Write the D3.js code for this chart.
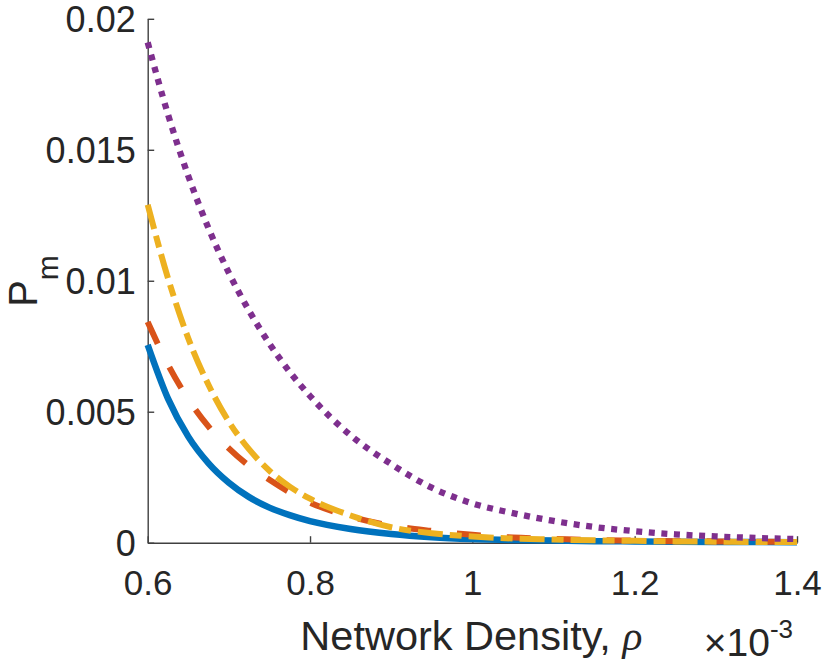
<!DOCTYPE html>
<html>
<head>
<meta charset="utf-8">
<script src="https://cdn.jsdelivr.net/npm/d3@7/dist/d3.min.js"></script>
<style>
  html, body { margin: 0; padding: 0; background: #fff; }
  svg { display: block; }
  text { font-family: "Liberation Sans", Arial, Helvetica, sans-serif; fill: #262626; }
</style>
</head>
<body>
<svg id="chart" width="830" height="667"></svg>
<script>
// Network density (x 10^-3)
const density = [0.6, 0.625, 0.65, 0.675, 0.7, 0.725, 0.75, 0.775, 0.8, 0.85, 0.9, 0.95, 1.0, 1.05, 1.1, 1.15, 1.2, 1.25, 1.3, 1.35, 1.4];
// P_m series
const seriesBlue   = [0.00755, 0.0055, 0.00405, 0.00303, 0.00229, 0.00174, 0.00134, 0.00105, 0.00082, 0.00052, 0.00033, 0.00021, 0.00014, 0.0001, 0.00008, 0.00006, 0.00005, 0.00004, 0.00003, 0.00003, 0.00002];
const seriesRed    = [0.00843, 0.0068, 0.00548, 0.00443, 0.0036, 0.00293, 0.0024, 0.00192, 0.00153, 0.001, 0.00065, 0.00045, 0.0003, 0.0002, 0.00015, 0.0001, 0.00008, 0.00006, 0.00005, 0.00004, 0.00003];
const seriesYellow = [0.0129, 0.0101, 0.0078, 0.00602, 0.00462, 0.00356, 0.00275, 0.00214, 0.00168, 0.00104, 0.00059, 0.00036, 0.00024, 0.00016, 0.00012, 0.00009, 0.00007, 0.00005, 0.00004, 0.00003, 0.00003];
const seriesPurple = [0.0191, 0.01635, 0.014, 0.012, 0.0103, 0.00885, 0.0076, 0.00652, 0.0056, 0.0041, 0.003, 0.0021, 0.0015, 0.00113, 0.00083, 0.0006, 0.00044, 0.00032, 0.00024, 0.00018, 0.00014];

const xTicks = [0.6, 0.8, 1.0, 1.2, 1.4];
const xTickLabels = ["0.6", "0.8", "1", "1.2", "1.4"];
const yTicks = [0, 0.005, 0.01, 0.015, 0.02];
const yTickLabels = ["0", "0.005", "0.01", "0.015", "0.02"];

const svg = d3.select("#chart");
const plotLeft = 147.7, plotRight = 797, plotTop = 18.8, plotBottom = 542.7;

const x = d3.scaleLinear().domain([0.6, 1.4]).range([plotLeft, plotRight]);
const y = d3.scaleLinear().domain([0, 0.02]).range([plotBottom, plotTop]);

const axisColor = "#404040";

// X axis
const xAxis = d3.axisBottom(x).tickValues(xTicks)
  .tickFormat((d, i) => xTickLabels[i]).tickSizeInner(-6.5).tickSizeOuter(0).tickPadding(30);
const gx = svg.append("g").attr("transform", `translate(0,${plotBottom})`).call(xAxis);
gx.select(".domain").attr("stroke", axisColor).attr("stroke-width", 1.4);
gx.selectAll(".tick line").attr("stroke", axisColor).attr("stroke-width", 1.4);
gx.selectAll(".tick text").attr("font-size", 35).attr("fill", "#262626")
  .attr("font-family", "Liberation Sans, Arial, sans-serif")
  .attr("dy", "0").attr("y", 52);

// Y axis
const yAxis = d3.axisLeft(y).tickValues(yTicks)
  .tickFormat((d, i) => yTickLabels[i]).tickSizeInner(-6.5).tickSizeOuter(0).tickPadding(13);
const gy = svg.append("g").attr("transform", `translate(${plotLeft},0)`).call(yAxis);
gy.select(".domain").attr("stroke", axisColor).attr("stroke-width", 1.4);
gy.selectAll(".tick line").attr("stroke", axisColor).attr("stroke-width", 1.4);
gy.selectAll(".tick text").attr("font-size", 36).attr("fill", "#262626")
  .attr("font-family", "Liberation Sans, Arial, sans-serif")
  .attr("x", -12).attr("dy", "0.35em");

// Lines
const line = d3.line().x(d => x(d[0])).y(d => y(d[1])).curve(d3.curveMonotoneX);
const series = [
  { values: seriesBlue,   color: "#0072BD", dash: null,          width: 6.5 },
  { values: seriesRed,    color: "#D95319", dash: "24,26",       width: 6 },
  { values: seriesYellow, color: "#EDB120", dash: "25,7,12,7",   width: 6 },
  { values: seriesPurple, color: "#7E2F8E", dash: "6,6.6",       width: 6.3 }
];
series.forEach(s => {
  const pts = density.map((d, i) => [d, s.values[i]]);
  svg.append("path").datum(pts)
    .attr("d", line)
    .attr("fill", "none")
    .attr("stroke", s.color)
    .attr("stroke-width", s.width)
    .attr("stroke-linecap", "butt")
    .attr("stroke-linejoin", "round")
    .attr("stroke-dasharray", s.dash);
});

// X label
svg.append("text")
  .attr("x", (plotLeft + plotRight) / 2 - 1).attr("y", 650)
  .attr("text-anchor", "middle").attr("font-size", 41.5)
  .html('Network Density, <tspan font-style="italic" font-family="Liberation Serif, Times New Roman, serif">ρ</tspan>');

// Exponent label
const ex = svg.append("text")
  .attr("x", 793).attr("y", 656)
  .attr("text-anchor", "end").attr("font-size", 39);
ex.append("tspan").text("×10");
ex.append("tspan").attr("font-size", 26).attr("dy", -18).text("-3");

// Y label
const yl = svg.append("text")
  .attr("transform", `translate(36.5,281) rotate(-90)`)
  .attr("text-anchor", "middle").attr("font-size", 40);
yl.append("tspan").text("P");
yl.append("tspan").attr("font-size", 30).attr("dy", 21).text("m");
</script>
</body>
</html>
